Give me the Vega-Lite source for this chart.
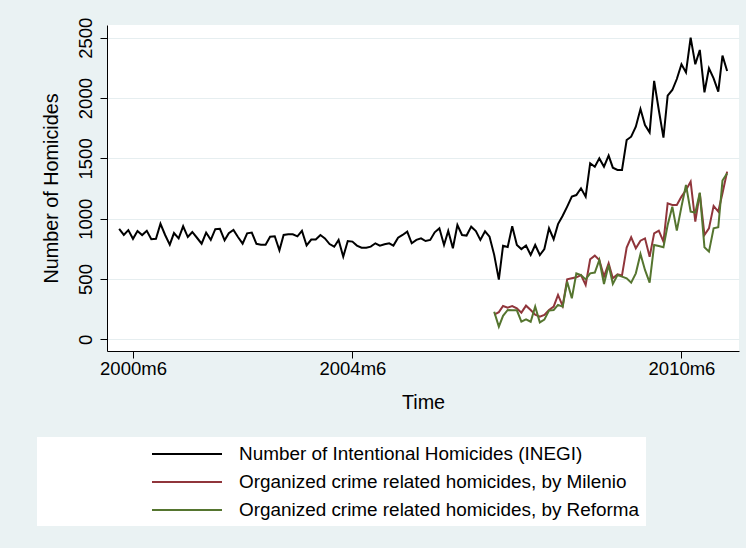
{
  "$schema": "https://vega.github.io/schema/vega-lite/v6.json",
  "width": 632,
  "height": 326,
  "autosize": {"type": "none"},
  "padding": {"left": 107, "top": 25, "right": 7, "bottom": 197},
  "background": "#eaf2f3",
  "data": {
    "values": [
      {"m": "2000-03", "a": 915}, {"m": "2000-04", "a": 865}, {"m": "2000-05", "a": 905},
      {"m": "2000-06", "a": 833}, {"m": "2000-07", "a": 898}, {"m": "2000-08", "a": 864},
      {"m": "2000-09", "a": 900}, {"m": "2000-10", "a": 830}, {"m": "2000-11", "a": 833},
      {"m": "2000-12", "a": 958}, {"m": "2001-01", "a": 865}, {"m": "2001-02", "a": 785},
      {"m": "2001-03", "a": 881}, {"m": "2001-04", "a": 837}, {"m": "2001-05", "a": 937},
      {"m": "2001-06", "a": 848}, {"m": "2001-07", "a": 890}, {"m": "2001-08", "a": 842},
      {"m": "2001-09", "a": 793}, {"m": "2001-10", "a": 885}, {"m": "2001-11", "a": 825},
      {"m": "2001-12", "a": 913}, {"m": "2002-01", "a": 916}, {"m": "2002-02", "a": 821},
      {"m": "2002-03", "a": 880}, {"m": "2002-04", "a": 907}, {"m": "2002-05", "a": 848},
      {"m": "2002-06", "a": 793}, {"m": "2002-07", "a": 879}, {"m": "2002-08", "a": 885},
      {"m": "2002-09", "a": 792}, {"m": "2002-10", "a": 785}, {"m": "2002-11", "a": 785},
      {"m": "2002-12", "a": 850}, {"m": "2003-01", "a": 854}, {"m": "2003-02", "a": 738},
      {"m": "2003-03", "a": 865}, {"m": "2003-04", "a": 871}, {"m": "2003-05", "a": 871},
      {"m": "2003-06", "a": 854}, {"m": "2003-07", "a": 899}, {"m": "2003-08", "a": 778},
      {"m": "2003-09", "a": 827}, {"m": "2003-10", "a": 827}, {"m": "2003-11", "a": 865},
      {"m": "2003-12", "a": 837}, {"m": "2004-01", "a": 790}, {"m": "2004-02", "a": 768},
      {"m": "2004-03", "a": 824}, {"m": "2004-04", "a": 685}, {"m": "2004-05", "a": 815},
      {"m": "2004-06", "a": 810}, {"m": "2004-07", "a": 777}, {"m": "2004-08", "a": 760},
      {"m": "2004-09", "a": 760}, {"m": "2004-10", "a": 768}, {"m": "2004-11", "a": 796},
      {"m": "2004-12", "a": 777}, {"m": "2005-01", "a": 788}, {"m": "2005-02", "a": 796},
      {"m": "2005-03", "a": 777}, {"m": "2005-04", "a": 843}, {"m": "2005-05", "a": 865},
      {"m": "2005-06", "a": 893}, {"m": "2005-07", "a": 796}, {"m": "2005-08", "a": 824},
      {"m": "2005-09", "a": 837}, {"m": "2005-10", "a": 815}, {"m": "2005-11", "a": 824},
      {"m": "2005-12", "a": 887}, {"m": "2006-01", "a": 920}, {"m": "2006-02", "a": 782},
      {"m": "2006-03", "a": 898}, {"m": "2006-04", "a": 755}, {"m": "2006-05", "a": 948},
      {"m": "2006-06", "a": 865}, {"m": "2006-07", "a": 860}, {"m": "2006-08", "a": 934},
      {"m": "2006-09", "a": 898}, {"m": "2006-10", "a": 824}, {"m": "2006-11", "a": 895},
      {"m": "2006-12", "a": 851},
      {"m": "2007-01", "a": 700, "b": 205, "c": 229},
      {"m": "2007-02", "a": 495, "b": 225, "c": 105},
      {"m": "2007-03", "a": 776, "b": 276, "c": 195},
      {"m": "2007-04", "a": 765, "b": 263, "c": 243},
      {"m": "2007-05", "a": 937, "b": 276, "c": 240},
      {"m": "2007-06", "a": 782, "b": 257, "c": 240},
      {"m": "2007-07", "a": 748, "b": 221, "c": 146},
      {"m": "2007-08", "a": 778, "b": 279, "c": 166},
      {"m": "2007-09", "a": 699, "b": 243, "c": 146},
      {"m": "2007-10", "a": 782, "b": 205, "c": 271},
      {"m": "2007-11", "a": 699, "b": 188, "c": 140},
      {"m": "2007-12", "a": 748, "b": 202, "c": 163},
      {"m": "2008-01", "a": 920, "b": 243, "c": 238},
      {"m": "2008-02", "a": 830, "b": 271, "c": 243},
      {"m": "2008-03", "a": 955, "b": 368, "c": 285},
      {"m": "2008-04", "a": 1024, "b": 276, "c": 271},
      {"m": "2008-05", "a": 1100, "b": 497, "c": 478},
      {"m": "2008-06", "a": 1183, "b": 506, "c": 340},
      {"m": "2008-07", "a": 1196, "b": 514, "c": 547},
      {"m": "2008-08", "a": 1252, "b": 533, "c": 533},
      {"m": "2008-09", "a": 1183, "b": 450, "c": 497},
      {"m": "2008-10", "a": 1460, "b": 663, "c": 547},
      {"m": "2008-11", "a": 1431, "b": 694, "c": 553},
      {"m": "2008-12", "a": 1500, "b": 658, "c": 658},
      {"m": "2009-01", "a": 1431, "b": 520, "c": 459},
      {"m": "2009-02", "a": 1523, "b": 630, "c": 616},
      {"m": "2009-03", "a": 1423, "b": 506, "c": 459},
      {"m": "2009-04", "a": 1404, "b": 539, "c": 533},
      {"m": "2009-05", "a": 1404, "b": 530, "c": 520},
      {"m": "2009-06", "a": 1652, "b": 760, "c": 506},
      {"m": "2009-07", "a": 1680, "b": 846, "c": 470},
      {"m": "2009-08", "a": 1763, "b": 755, "c": 547},
      {"m": "2009-09", "a": 1909, "b": 818, "c": 708},
      {"m": "2009-10", "a": 1777, "b": 837, "c": 575},
      {"m": "2009-11", "a": 1716, "b": 685, "c": 470},
      {"m": "2009-12", "a": 2142, "b": 879, "c": 782},
      {"m": "2010-01", "a": 1901, "b": 901, "c": 774},
      {"m": "2010-02", "a": 1672, "b": 810, "c": 763},
      {"m": "2010-03", "a": 2020, "b": 1128, "c": 948},
      {"m": "2010-04", "a": 2067, "b": 1114, "c": 1100},
      {"m": "2010-05", "a": 2158, "b": 1114, "c": 901},
      {"m": "2010-06", "a": 2280, "b": 1183, "c": 1100},
      {"m": "2010-07", "a": 2213, "b": 1238, "c": 1280},
      {"m": "2010-08", "a": 2501, "b": 1307, "c": 1059},
      {"m": "2010-09", "a": 2280, "b": 976, "c": 1050},
      {"m": "2010-10", "a": 2399, "b": 1211, "c": 1216},
      {"m": "2010-11", "a": 2048, "b": 865, "c": 763},
      {"m": "2010-12", "a": 2247, "b": 920, "c": 727},
      {"m": "2011-01", "a": 2164, "b": 1106, "c": 920},
      {"m": "2011-02", "a": 2053, "b": 1059, "c": 929},
      {"m": "2011-03", "a": 2352, "b": 1211, "c": 1316},
      {"m": "2011-04", "a": 2225, "b": 1390, "c": 1376}
    ]
  },
  "transform": [{"fold": ["a", "b", "c"], "as": ["s", "v"]}],
  "mark": {"type": "line", "strokeWidth": 2},
  "encoding": {
    "x": {
      "field": "m",
      "type": "temporal",
      "scale": {
        "type": "utc",
        "domain": [
          {"year": 1999, "month": 12, "date": 11, "utc": true},
          {"year": 2011, "month": 6, "date": 19, "utc": true}
        ]
      },
      "axis": {
        "title": "Time",
        "values": [
          {"year": 2000, "month": 6, "date": 1, "utc": true},
          {"year": 2004, "month": 6, "date": 1, "utc": true},
          {"year": 2010, "month": 6, "date": 1, "utc": true}
        ],
        "labelExpr": "utcFormat(datum.value, '%Y') + 'm' + (utcmonth(datum.value) + 1)",
        "grid": false,
        "labelBaseline": "alphabetic",
        "labelPadding": 16,
        "labelAlign": "center",
        "labelFlush": false,
        "labelOverlap": false,
        "titleX": 316,
        "titleY": 57,
        "titleAlign": "center",
        "titleBaseline": "alphabetic"
      }
    },
    "y": {
      "field": "v",
      "type": "quantitative",
      "scale": {"domain": [-97, 2606], "nice": false, "zero": false},
      "axis": {
        "title": "Number of Homicides",
        "values": [0, 500, 1000, 1500, 2000, 2500],
        "format": "d",
        "grid": true,
        "gridColor": "#e6eef0",
        "gridWidth": 1.2,
        "labelAngle": -90,
        "labelAlign": "center",
        "labelBaseline": "alphabetic",
        "labelPadding": 9,
        "labelOverlap": false,
        "labelFlush": false,
        "titleAngle": -90,
        "titleX": -50,
        "titleY": 163,
        "titleAlign": "center",
        "titleBaseline": "alphabetic"
      }
    },
    "color": {
      "field": "s",
      "type": "nominal",
      "scale": {"domain": ["a", "b", "c"], "range": ["#000000", "#90353b", "#55752f"]},
      "legend": {
        "title": null,
        "orient": "none",
        "legendX": -70,
        "legendY": 412,
        "direction": "vertical",
        "fillColor": "white",
        "padding": 6,
        "symbolType": "M-3.5,0H3.5",
        "symbolSize": 400,
        "symbolStrokeWidth": 2,
        "symbolOffset": 133,
        "labelOffset": 41,
        "rowPadding": 7,
        "labelFontSize": 18.9,
        "labelColor": "black",
        "labelLimit": 600,
        "labelExpr": "datum.label == 'a' ? 'Number of Intentional Homicides (INEGI)' : datum.label == 'b' ? 'Organized crime related homicides, by Milenio' : 'Organized crime related homicides, by Reforma'"
      }
    }
  },
  "config": {
    "font": "Liberation Sans",
    "view": {"fill": "white", "stroke": null},
    "axis": {
      "domainColor": "black",
      "domainWidth": 1,
      "tickColor": "black",
      "tickSize": 7,
      "tickWidth": 1,
      "labelColor": "black",
      "labelFontSize": 18.5,
      "titleColor": "black",
      "titleFontSize": 19.8,
      "titleFontWeight": "normal"
    }
  }
}
